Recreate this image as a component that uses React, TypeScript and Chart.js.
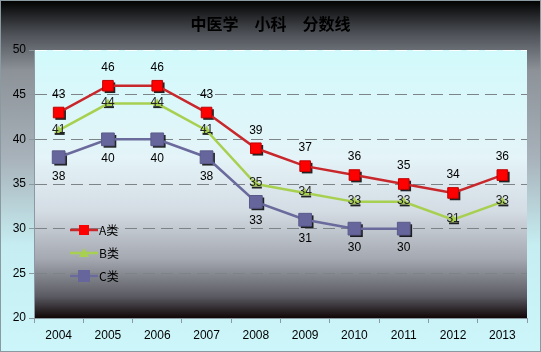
import React, { useEffect, useRef } from "react";
import { Chart, registerables } from "chart.js";

Chart.register(...registerables);

const TITLE = "中医学　小科　分数线";
const YEARS = ["2004", "2005", "2006", "2007", "2008", "2009", "2010", "2011", "2012", "2013"];
const SERIES_A = [43, 46, 46, 43, 39, 37, 36, 35, 34, 36];
const SERIES_B = [41, 44, 44, 41, 35, 34, 33, 33, 31, 33];
const SERIES_C = [38, 40, 40, 38, 33, 31, 30, 30, null, null];
const LABELS = ["A类", "B类", "C类"];
const Y_MIN = 20;
const Y_MAX = 50;
const Y_STEP = 5;

const FONT = "'Liberation Sans', Arial, sans-serif";

const bgPlugin = {
  id: "bgPlugin",
  beforeDraw(chart: any) {
    const { ctx, width, height, chartArea } = chart;
    ctx.save();
    const g = ctx.createLinearGradient(0, 0, 0, height);
    g.addColorStop(0, "#000000");
    g.addColorStop(0.1, "#50545a");
    g.addColorStop(0.2, "#8c9298");
    g.addColorStop(0.45, "#a8b2ba");
    g.addColorStop(0.7, "#c6eef2");
    g.addColorStop(1, "#ccf6fa");
    ctx.fillStyle = g;
    ctx.fillRect(0, 0, width, height);
    ctx.strokeStyle = "#8a9aa0";
    ctx.lineWidth = 1;
    ctx.strokeRect(0.5, 0.5, width - 1, height - 1);
    const { left, top, right, bottom } = chartArea;
    const p = ctx.createLinearGradient(0, top, 0, bottom);
    p.addColorStop(0, "#d2fafc");
    p.addColorStop(0.4, "#e4f4f8");
    p.addColorStop(0.6, "#d4dce4");
    p.addColorStop(0.78, "#a4a8b0");
    p.addColorStop(0.92, "#5a5a62");
    p.addColorStop(1, "#100606");
    ctx.fillStyle = p;
    ctx.fillRect(left, top, right - left, bottom - top);
    // title
    ctx.fillStyle = "#000";
    ctx.font = "bold 16px 'Noto Sans CJK SC', sans-serif";
    ctx.textAlign = "center";
    ctx.textBaseline = "middle";
    ctx.fillText(TITLE, width / 2, 24);
    ctx.restore();
  },
};

const shadowPlugin = {
  id: "shadowPlugin",
  beforeDatasetDraw(chart: any, args: any) {
    const { ctx } = chart;
    const meta = args.meta;
    const ds = chart.data.datasets[args.index];
    ctx.save();
    ctx.fillStyle = "rgba(0,0,0,0.85)";
    meta.data.forEach((pt: any, i: number) => {
      if (ds.data[i] == null) return;
      const r = ds.pointRadius;
      if (ds.pointStyle === "rect") {
        const s = Math.SQRT1_2 * r;
        ctx.fillRect(pt.x - s + 2, pt.y - s + 2, 2 * s, 2 * s);
      } else {
        ctx.fillRect(pt.x - r + 1, pt.y + r * 0.5, 2 * r, 2);
      }
    });
    ctx.restore();
  },
};

const labelPlugin = {
  id: "labelPlugin",
  afterDatasetsDraw(chart: any) {
    const { ctx } = chart;
    ctx.save();
    ctx.font = "12px " + FONT;
    ctx.textAlign = "center";
    ctx.textBaseline = "middle";
    chart.data.datasets.forEach((ds: any, di: number) => {
      const meta = chart.getDatasetMeta(di);
      meta.data.forEach((pt: any, i: number) => {
        const v = ds.data[i];
        if (v == null) return;
        const dy = di === 0 ? -18 : di === 1 ? -1 : 19;
        ctx.fillStyle = di === 1 ? "#222" : "#000";
        ctx.fillText(String(v), pt.x, pt.y + dy);
      });
    });
    ctx.restore();
  },
};

const legendPlugin = {
  id: "legendPlugin",
  afterDraw(chart: any) {
    const { ctx, chartArea } = chart;
    ctx.save();
    ctx.font = "12px 'Noto Sans CJK SC', sans-serif";
    ctx.textBaseline = "middle";
    ctx.textAlign = "left";
    chart.data.datasets.forEach((ds: any, i: number) => {
      const y = chartArea.top + 180 + i * 23;
      const x0 = chartArea.left + 36;
      const x1 = chartArea.left + 64;
      const cx = (x0 + x1) / 2;
      ctx.strokeStyle = ds.borderColor;
      ctx.lineWidth = 2.5;
      ctx.beginPath();
      ctx.moveTo(x0, y);
      ctx.lineTo(x1, y);
      ctx.stroke();
      ctx.fillStyle = ds.pointBackgroundColor;
      if (ds.pointStyle === "rect") {
        const s = i === 0 ? 5 : 6;
        ctx.fillRect(cx - s, y - s, 2 * s, 2 * s);
      } else {
        ctx.beginPath();
        ctx.moveTo(cx, y - 5);
        ctx.lineTo(cx + 5, y + 4);
        ctx.lineTo(cx - 5, y + 4);
        ctx.closePath();
        ctx.fill();
      }
      ctx.fillStyle = "#000";
      ctx.fillText(ds.label, x1 + 1, y);
    });
    ctx.restore();
  },
};

export default function App() {
  const ref = useRef<HTMLCanvasElement>(null);
  useEffect(() => {
    const chart = new Chart(ref.current!, {
      type: "line",
      data: {
        labels: YEARS,
        datasets: [
          {
            label: LABELS[0],
            data: SERIES_A,
            borderColor: "#c8282c",
            backgroundColor: "#ff0000",
            pointBackgroundColor: "#ff0000",
            pointBorderColor: "#c00000",
            pointBorderWidth: 1,
            pointStyle: "rect",
            pointRadius: 7.5,
            borderWidth: 2.5,
            tension: 0,
          },
          {
            label: LABELS[1],
            data: SERIES_B,
            borderColor: "#a8d050",
            backgroundColor: "#a8d050",
            pointBackgroundColor: "#a8d050",
            pointBorderColor: "#a8d050",
            pointBorderWidth: 0,
            pointStyle: "triangle",
            pointRadius: 5,
            borderWidth: 2.5,
            tension: 0,
          },
          {
            label: LABELS[2],
            data: SERIES_C,
            borderColor: "#6a6a9c",
            backgroundColor: "#66669c",
            pointBackgroundColor: "#66669c",
            pointBorderColor: "#5a5a8a",
            pointBorderWidth: 1,
            pointStyle: "rect",
            pointRadius: 9,
            borderWidth: 2.5,
            tension: 0,
            spanGaps: false,
          },
        ],
      },
      options: {
        animation: false,
        responsive: false,
        devicePixelRatio: 1,
        layout: { padding: { top: 50, right: 14, left: 0, bottom: 0 } },
        plugins: {
          legend: { display: false },
          title: { display: false },
          tooltip: { enabled: false },
        },
        scales: {
          x: {
            type: "category",
            offset: true,
            grid: {
              offset: true,
              drawOnChartArea: false,
              drawTicks: true,
              tickLength: 5,
              color: "#8a9aa0",
            },
            border: { display: true, color: "#8a9aa0" },
            ticks: {
              color: "#000",
              font: { family: FONT, size: 12 },
              padding: 5,
              maxRotation: 0,
              autoSkip: false,
            },
            afterFit(scale: any) {
              scale.height = 34;
            },
          },
          y: {
            min: Y_MIN,
            max: Y_MAX,
            ticks: {
              stepSize: Y_STEP,
              color: "#000",
              font: { family: FONT, size: 12 },
              padding: 3,
            },
            grid: {
              color: (c: any) =>
                c.tick && c.tick.value === Y_MAX
                  ? "rgba(255,255,255,0.9)"
                  : c.tick && c.tick.value === Y_MIN
                  ? "rgba(0,0,0,0)"
                  : "#7c8488",
              tickColor: "#8a9aa0",
              tickBorderDash: [],
              tickLength: 5,
              lineWidth: 1,
            },
            border: { display: true, color: "#8a9aa0", dash: [12, 6] },
            afterFit(scale: any) {
              scale.width = 34;
            },
          },
        },
      },
      plugins: [bgPlugin, shadowPlugin, labelPlugin, legendPlugin],
    } as any);
    return () => chart.destroy();
  }, []);
  return (
    <div style={{ position: "fixed", left: 0, top: 0, width: 541, height: 352 }}>
      <canvas ref={ref} width={541} height={352} style={{ width: 541, height: 352, display: "block" }} />
    </div>
  );
}
